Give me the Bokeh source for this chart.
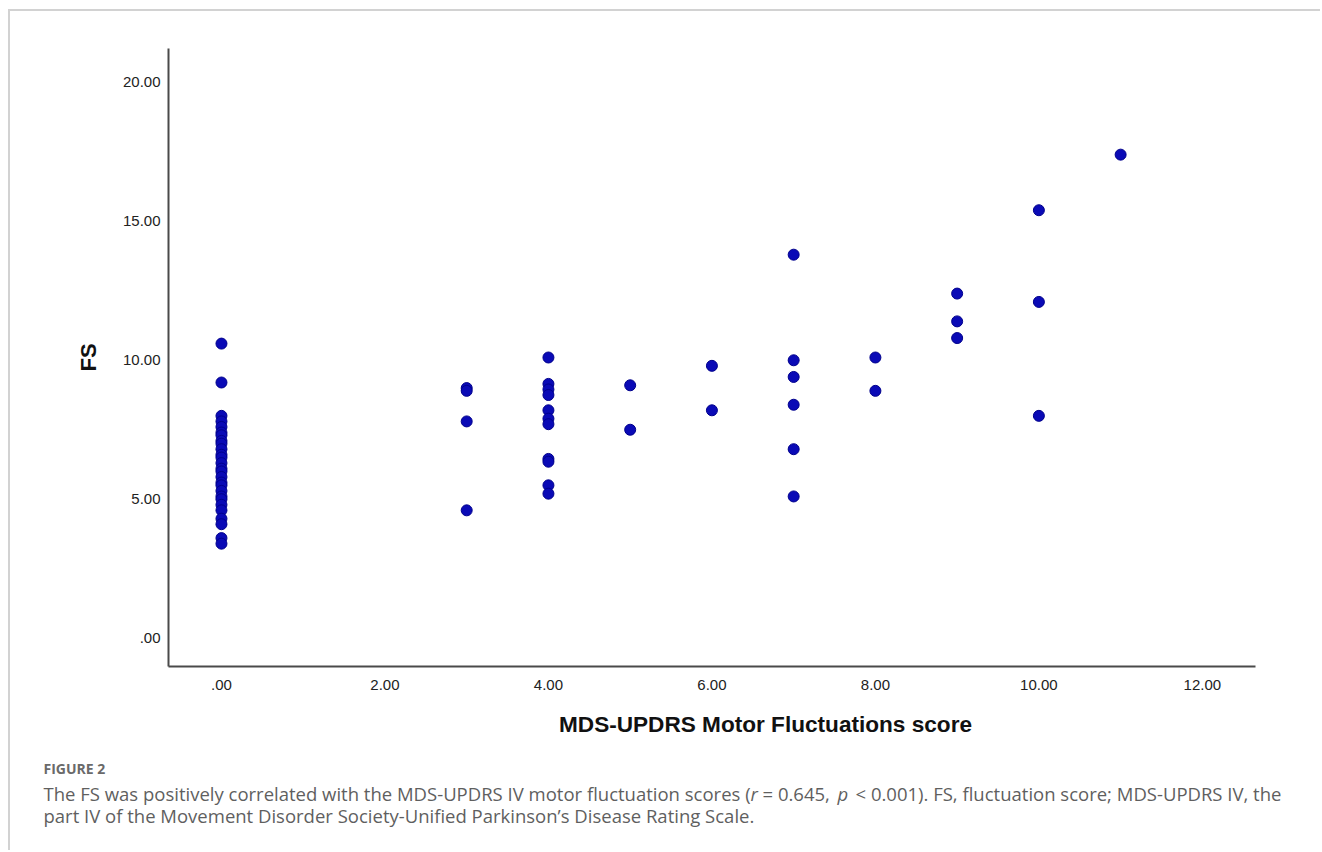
from bokeh.plotting import figure
from bokeh.models import Range1d, FixedTicker, Label, ColumnDataSource
from bokeh.embed import file_html
from bokeh.resources import INLINE

# ---- data ----
fs_at_0 = [10.6, 9.2, 8.0, 7.8, 7.6, 7.4, 7.3, 7.1, 7.0, 6.8, 6.6, 6.5, 6.3, 6.1,
           6.0, 5.8, 5.6, 5.5, 5.3, 5.1, 5.0, 4.8, 4.6, 4.3, 4.1, 3.6, 3.4]
fs_at_3 = [9.0, 8.9, 7.8, 4.6]
fs_at_4 = [10.1, 9.15, 8.95, 8.75, 8.2, 7.9, 7.7, 6.45, 6.35, 5.5, 5.2]
fs_at_5 = [9.1, 7.5]
fs_at_6 = [9.8, 8.2]
fs_at_7 = [13.8, 10.0, 9.4, 8.4, 6.8, 5.1]
fs_at_8 = [10.1, 8.9]
fs_at_9 = [12.4, 11.4, 10.8]
fs_at_10 = [15.4, 12.1, 8.0]
fs_at_11 = [17.4]

motor_levels = [0, 3, 4, 5, 6, 7, 8, 9, 10, 11]
fs_groups = [fs_at_0, fs_at_3, fs_at_4, fs_at_5, fs_at_6, fs_at_7, fs_at_8,
             fs_at_9, fs_at_10, fs_at_11]

x_ticks = [0, 2, 4, 6, 8, 10, 12]
x_tick_labels = [".00", "2.00", "4.00", "6.00", "8.00", "10.00", "12.00"]
y_ticks = [0, 5, 10, 15, 20]
y_tick_labels = [".00", "5.00", "10.00", "15.00", "20.00"]

x_title = "MDS-UPDRS Motor Fluctuations score"
y_title = "FS"
fig_label = "FIGURE 2"
caption_1_parts = [
    ("The FS was positively correlated with the MDS-UPDRS IV motor fluctuation scores (", "normal"),
    ("r", "italic"),
    ("= 0.645,", "normal"),
    ("p", "italic"),
    ("< 0.001). FS, fluctuation score; MDS-UPDRS IV, the", "normal"),
]
caption_2 = "part IV of the Movement Disorder Society-Unified Parkinson\u2019s Disease Rating Scale."

xs, ys = [], []
for lvl, grp in zip(motor_levels, fs_groups):
    xs.extend([lvl] * len(grp))
    ys.extend(grp)
src = ColumnDataSource(dict(x=xs, y=ys))

BORDER = "2px solid #d2d2d2"

# ---- main chart ----
p = figure(width=1312, height=694, output_backend="svg", toolbar_location=None,
           x_range=Range1d(-0.648, 12.65), y_range=Range1d(-1.02, 21.22),
           min_border_left=158, min_border_right=67, min_border_top=37,
           min_border_bottom=39,
           styles={"margin-left": "8px", "margin-top": "9px",
                   "border-left": BORDER, "border-top": BORDER})
p.grid.visible = False
p.outline_line_color = None

for ax in (p.xaxis[0], p.yaxis[0]):
    ax.major_tick_line_color = None
    ax.minor_tick_line_color = None
    ax.major_tick_out = 0
    ax.major_tick_in = 0
    ax.axis_line_color = "#4a4a4a"
    ax.axis_line_width = 2
    ax.major_label_text_font = "Liberation Sans"
    ax.major_label_text_font_size = "15px"
    ax.major_label_text_color = "#222222"

p.xaxis.ticker = FixedTicker(ticks=x_ticks)
p.xaxis.major_label_overrides = {t: l for t, l in zip(x_ticks, x_tick_labels)}
p.xaxis.major_label_standoff = 13
p.yaxis.ticker = FixedTicker(ticks=y_ticks)
p.yaxis.major_label_overrides = {t: l for t, l in zip(y_ticks, y_tick_labels)}
p.yaxis.major_label_standoff = 8

p.yaxis.axis_label = y_title
p.yaxis.axis_label_text_font = "Liberation Sans"
p.yaxis.axis_label_text_font_style = "bold"
p.yaxis.axis_label_text_font_size = "22px"
p.yaxis.axis_label_text_color = "#111111"
p.yaxis.axis_label_standoff = 19

p.scatter("x", "y", source=src, size=11, fill_color="#0a0ab6",
          line_color="#00008c", line_width=1)

# ---- x title + caption panel (pixel coordinates, y downward) ----
c = figure(width=1312, height=147, output_backend="svg", toolbar_location=None,
           x_range=Range1d(0, 1312), y_range=Range1d(147, 0),
           x_axis_location=None, y_axis_location=None,
           min_border=0, min_border_left=0, min_border_right=0,
           min_border_top=0, min_border_bottom=0,
           styles={"margin-left": "8px", "border-left": BORDER})
c.grid.visible = False
c.outline_line_color = None

c.add_layout(Label(x=755, y=21, text=x_title, text_font="Liberation Sans",
                   text_font_style="bold", text_font_size="22.6px",
                   text_color="#111111", text_align="center",
                   text_baseline="alphabetic"))
c.add_layout(Label(x=33, y=65, text=fig_label, text_font="Open Sans",
                   text_font_style="bold", text_font_size="14px",
                   text_color="#6a6a6a", text_baseline="alphabetic"))

part_x = [33, 740, 752, 827, 845]
for (txt, style), px in zip(caption_1_parts, part_x):
    c.add_layout(Label(x=px, y=90, text=txt, text_font="Open Sans",
                       text_font_style=style, text_font_size="18.5px",
                       text_color="#5f5f5f", text_baseline="alphabetic"))
c.add_layout(Label(x=33, y=112, text=caption_2, text_font="Open Sans",
                   text_font_size="18.5px", text_color="#5f5f5f",
                   text_baseline="alphabetic"))

open("out.html", "w").write(file_html([p, c], INLINE))
